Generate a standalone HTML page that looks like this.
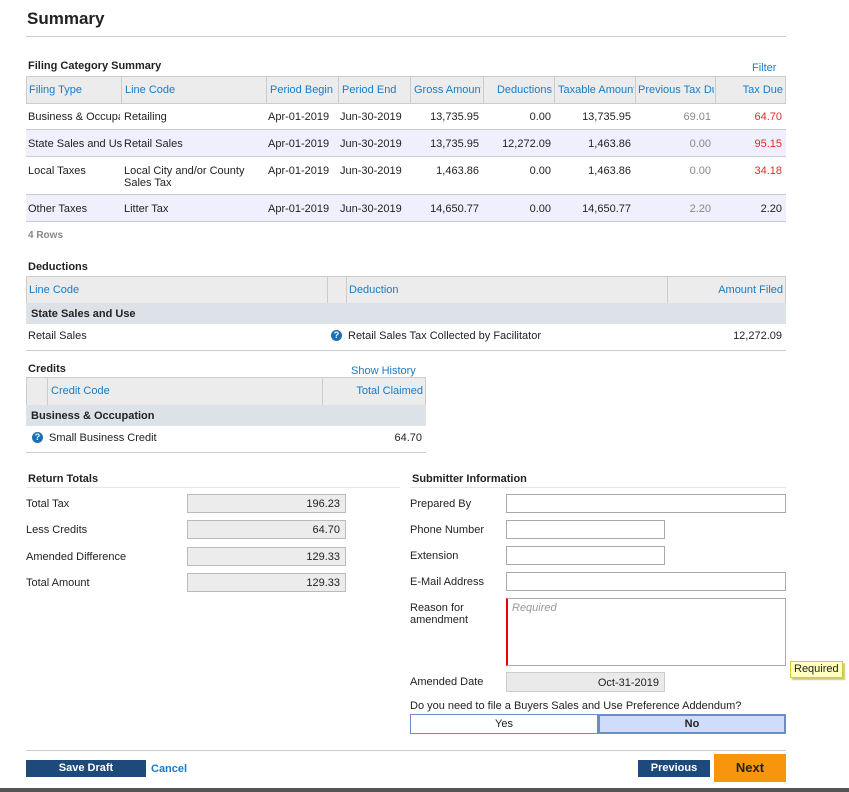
<!DOCTYPE html>
<html><head><meta charset="utf-8">
<style>
*{box-sizing:border-box;margin:0;padding:0}
body{width:849px;height:792px;background:#fff;position:relative;overflow:hidden;font-family:"Liberation Sans",Arial,sans-serif;font-size:11px;color:#222}
.a{position:absolute;white-space:nowrap}
.b{font-weight:bold}
.lk{color:#1a7bc4}
.hd{background:#ececec;border:1px solid #ccc}
.vl{position:absolute;top:0;bottom:0;width:1px;background:#ccc}
.cell{position:absolute;white-space:nowrap;line-height:13px}
.r{text-align:right}
.gry{color:#888}
.red{color:#e8262b}
.hl{position:absolute;height:1px;background:#ccc}
.inp{position:absolute;height:19px;border:1px solid #aaa;background:#fff}
.ro{background:#ececec;border:1px solid #bbb;text-align:right;padding-right:5px;padding-top:2px;line-height:14px}
.q{display:inline-block;width:11px;height:11px;border-radius:50%;background:#1a6fb5;color:#fff;font-size:9px;font-weight:bold;text-align:center;line-height:11px}
</style></head><body>
<div class="a b" style="left:27px;top:9px;font-size:17px">Summary</div>
<div class="hl" style="left:26px;top:36px;width:760px;background:#ccc"></div>

<div class="a b" style="left:28px;top:60px">Filing Category Summary</div>
<div class="a lk" style="left:752px;top:62px">Filter</div>

<div style="position:absolute;left:26px;top:76px;width:760px;height:147px">
 <div class="hd" style="position:absolute;left:0;top:0;width:760px;height:28px">
  <div class="vl" style="left:94px"></div><div class="vl" style="left:239px"></div><div class="vl" style="left:311px"></div><div class="vl" style="left:383px"></div><div class="vl" style="left:456px"></div><div class="vl" style="left:527px"></div><div class="vl" style="left:608px"></div><div class="vl" style="left:688px"></div>
  <div class="cell lk" style="left:2px;top:7px">Filing Type</div>
  <div class="cell lk" style="left:98px;top:7px">Line Code</div>
  <div class="cell lk" style="left:243px;top:7px">Period Begin</div>
  <div class="cell lk" style="left:315px;top:7px">Period End</div>
  <div class="cell lk" style="left:387px;top:7px;width:67px;overflow:hidden">Gross Amount</div>
  <div class="cell lk r" style="left:460px;top:7px;width:65px">Deductions</div>
  <div class="cell lk" style="left:531px;top:7px;width:76px;overflow:hidden">Taxable Amount</div>
  <div class="cell lk" style="left:611px;top:7px;width:76px;overflow:hidden">Previous Tax Due</div>
  <div class="cell lk r" style="left:690px;top:7px;width:66px">Tax Due</div>
 </div>
 <div style="position:absolute;left:0;top:27px;width:760px;height:27px;border-bottom:1px solid #ccc">
  <div class="cell" style="left:2px;top:8px;width:92px;overflow:hidden">Business &amp; Occupation</div><div class="cell" style="left:98px;top:8px">Retailing</div><div class="cell" style="left:242px;top:8px">Apr-01-2019</div><div class="cell" style="left:314px;top:8px">Jun-30-2019</div>
  <div class="cell r" style="left:380px;top:8px;width:73px">13,735.95</div><div class="cell r" style="left:456px;top:8px;width:69px">0.00</div><div class="cell r" style="left:527px;top:8px;width:78px">13,735.95</div><div class="cell r gry" style="left:608px;top:8px;width:77px">69.01</div><div class="cell r red" style="left:688px;top:8px;width:68px">64.70</div>
 </div>
 <div style="position:absolute;left:0;top:54px;width:760px;height:27px;background:#efeffd;border-bottom:1px solid #ccc">
  <div class="cell" style="left:2px;top:8px;width:94px;overflow:hidden">State Sales and Use</div><div class="cell" style="left:98px;top:8px">Retail Sales</div><div class="cell" style="left:242px;top:8px">Apr-01-2019</div><div class="cell" style="left:314px;top:8px">Jun-30-2019</div>
  <div class="cell r" style="left:380px;top:8px;width:73px">13,735.95</div><div class="cell r" style="left:456px;top:8px;width:69px">12,272.09</div><div class="cell r" style="left:527px;top:8px;width:78px">1,463.86</div><div class="cell r gry" style="left:608px;top:8px;width:77px">0.00</div><div class="cell r red" style="left:688px;top:8px;width:68px">95.15</div>
 </div>
 <div style="position:absolute;left:0;top:81px;width:760px;height:38px;border-bottom:1px solid #ccc">
  <div class="cell" style="left:2px;top:8px">Local Taxes</div><div class="cell" style="left:98px;top:8px;line-height:12px">Local City and/or County<br>Sales Tax</div><div class="cell" style="left:242px;top:8px">Apr-01-2019</div><div class="cell" style="left:314px;top:8px">Jun-30-2019</div>
  <div class="cell r" style="left:380px;top:8px;width:73px">1,463.86</div><div class="cell r" style="left:456px;top:8px;width:69px">0.00</div><div class="cell r" style="left:527px;top:8px;width:78px">1,463.86</div><div class="cell r gry" style="left:608px;top:8px;width:77px">0.00</div><div class="cell r red" style="left:688px;top:8px;width:68px">34.18</div>
 </div>
 <div style="position:absolute;left:0;top:119px;width:760px;height:27px;background:#efeffd;border-bottom:1px solid #ccc">
  <div class="cell" style="left:2px;top:8px">Other Taxes</div><div class="cell" style="left:98px;top:8px">Litter Tax</div><div class="cell" style="left:242px;top:8px">Apr-01-2019</div><div class="cell" style="left:314px;top:8px">Jun-30-2019</div>
  <div class="cell r" style="left:380px;top:8px;width:73px">14,650.77</div><div class="cell r" style="left:456px;top:8px;width:69px">0.00</div><div class="cell r" style="left:527px;top:8px;width:78px">14,650.77</div><div class="cell r gry" style="left:608px;top:8px;width:77px">2.20</div><div class="cell r" style="left:688px;top:8px;width:68px">2.20</div>
 </div>
</div>
<div class="a b gry" style="left:28px;top:230px;font-size:10px">4 Rows</div>

<div class="a b" style="left:28px;top:261px">Deductions</div>
<div class="hd" style="position:absolute;left:26px;top:276px;width:760px;height:28px">
 <div class="vl" style="left:300px"></div><div class="vl" style="left:319px"></div><div class="vl" style="left:640px"></div>
 <div class="cell lk" style="left:2px;top:7px">Line Code</div>
 <div class="cell lk" style="left:322px;top:7px">Deduction</div>
 <div class="cell lk r" style="left:642px;top:7px;width:114px">Amount Filed</div>
</div>
<div class="a b" style="left:26px;top:303px;width:760px;height:21px;background:#dde1e8;padding:5px 0 0 5px">State Sales and Use</div>
<div style="position:absolute;left:26px;top:324px;width:760px;height:27px;border-bottom:1px solid #ccc">
 <div class="cell" style="left:2px;top:6px">Retail Sales</div>
 <div class="cell" style="left:305px;top:5px"><span class="q">?</span></div>
 <div class="cell" style="left:322px;top:6px">Retail Sales Tax Collected by Facilitator</div>
 <div class="cell r" style="left:640px;top:6px;width:116px">12,272.09</div>
</div>

<div class="a b" style="left:28px;top:363px">Credits</div>
<div class="a lk" style="left:351px;top:365px">Show History</div>
<div class="hd" style="position:absolute;left:26px;top:377px;width:400px;height:29px">
 <div class="vl" style="left:20px"></div><div class="vl" style="left:295px"></div>
 <div class="cell lk" style="left:24px;top:7px">Credit Code</div>
 <div class="cell lk r" style="left:297px;top:7px;width:99px">Total Claimed</div>
</div>
<div class="a b" style="left:26px;top:405px;width:400px;height:21px;background:#dde1e8;padding:5px 0 0 5px">Business &amp; Occupation</div>
<div style="position:absolute;left:26px;top:426px;width:400px;height:27px;border-bottom:1px solid #ccc">
 <div class="cell" style="left:6px;top:5px"><span class="q">?</span></div>
 <div class="cell" style="left:23px;top:6px">Small Business Credit</div>
 <div class="cell r" style="left:296px;top:6px;width:100px">64.70</div>
</div>

<div class="a b" style="left:28px;top:473px">Return Totals</div>
<div class="hl" style="left:26px;top:487px;width:374px;background:#e4e8ee"></div>
<div class="a b" style="left:412px;top:473px">Submitter Information</div>
<div class="hl" style="left:410px;top:487px;width:376px;background:#e4e8ee"></div>

<div class="a" style="left:26px;top:498px">Total Tax</div>
<div class="inp ro" style="left:187px;top:494px;width:159px">196.23</div>
<div class="a" style="left:26px;top:524px">Less Credits</div>
<div class="inp ro" style="left:187px;top:520px;width:159px">64.70</div>
<div class="a" style="left:26px;top:551px">Amended Difference</div>
<div class="inp ro" style="left:187px;top:547px;width:159px">129.33</div>
<div class="a" style="left:26px;top:577px">Total Amount</div>
<div class="inp ro" style="left:187px;top:573px;width:159px">129.33</div>

<div class="a" style="left:410px;top:498px">Prepared By</div>
<div class="inp" style="left:506px;top:494px;width:280px"></div>
<div class="a" style="left:410px;top:524px">Phone Number</div>
<div class="inp" style="left:506px;top:520px;width:159px"></div>
<div class="a" style="left:410px;top:550px">Extension</div>
<div class="inp" style="left:506px;top:546px;width:159px"></div>
<div class="a" style="left:410px;top:576px">E-Mail Address</div>
<div class="inp" style="left:506px;top:572px;width:280px"></div>
<div class="a" style="left:410px;top:602px;line-height:12px">Reason for<br>amendment</div>
<div style="position:absolute;left:506px;top:598px;width:280px;height:68px;border:1px solid #aaa;border-left:2px solid #e00;padding:3px 4px;color:#999;font-style:italic">Required</div>
<div class="a" style="left:790px;top:661px;width:53px;height:17px;background:#ffffc0;border:1px solid #d8c840;box-shadow:2px 2px 1px #cfc878;padding:2px 3px;line-height:11px">Required</div>
<div class="a" style="left:410px;top:676px">Amended Date</div>
<div class="inp ro" style="left:506px;top:672px;width:159px;height:20px;background:#eaeaea;border-color:#ccc;padding-top:3px">Oct-31-2019</div>
<div class="a" style="left:410px;top:700px">Do you need to file a Buyers Sales and Use Preference Addendum?</div>
<div class="a" style="left:410px;top:714px;width:188px;height:20px;border:1px solid #6b8cc4;text-align:center;line-height:18px;background:#fff">Yes</div>
<div class="a b" style="left:598px;top:714px;width:188px;height:20px;border:2px solid #6b8cc4;text-align:center;line-height:16px;background:#cfdcfa">No</div>

<div class="hl" style="left:26px;top:750px;width:760px"></div>
<div class="a b" style="left:26px;top:760px;width:120px;height:17px;background:#1d4a7a;color:#fff;text-align:center;line-height:17px">Save Draft</div>
<div class="a lk b" style="left:151px;top:763px">Cancel</div>
<div class="a b" style="left:638px;top:760px;width:72px;height:17px;background:#1d4a7a;color:#fff;text-align:center;line-height:17px">Previous</div>
<div class="a b" style="left:714px;top:754px;width:72px;height:28px;background:#f7960c;color:#222;text-align:center;line-height:28px;font-size:13px">Next</div>
<div class="a" style="left:0;top:788px;width:849px;height:4px;background:#555"></div>
</body></html>
